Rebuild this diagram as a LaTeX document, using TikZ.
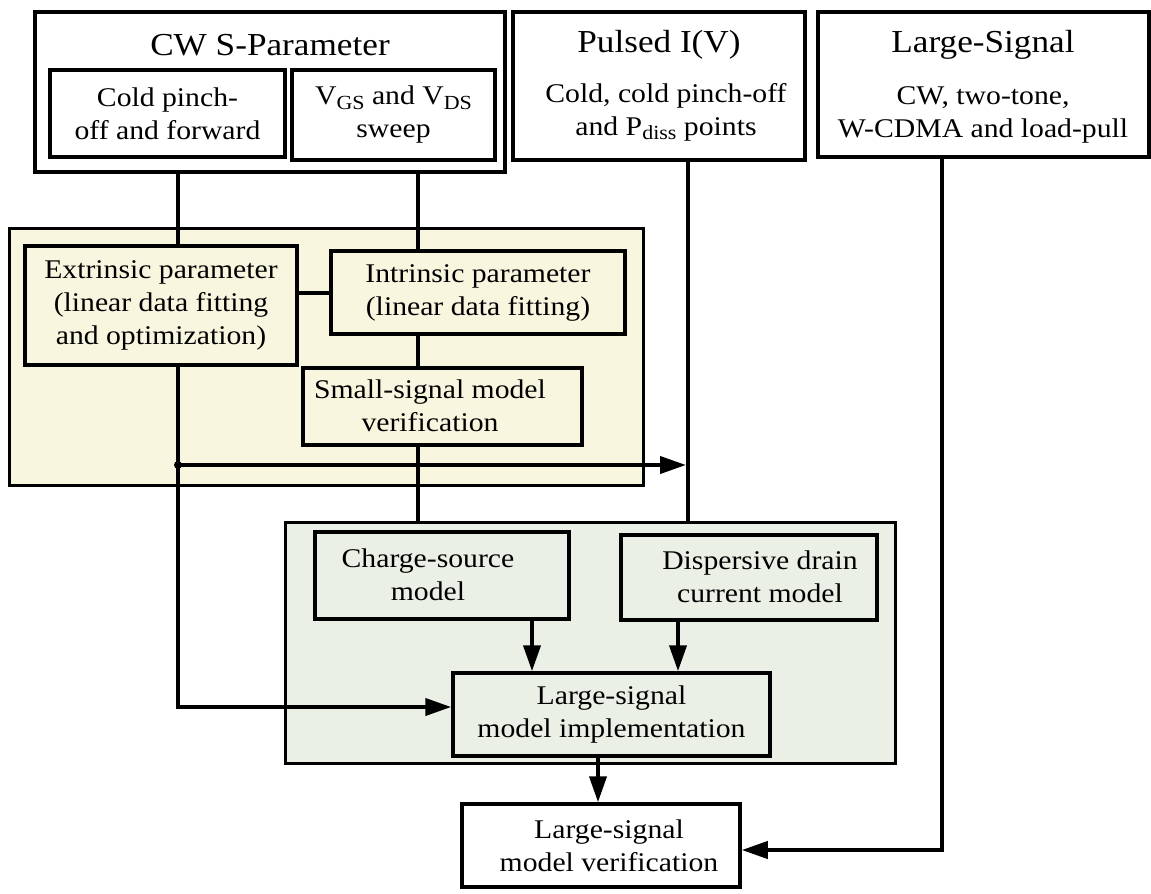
\documentclass[tikz,border=0pt]{standalone}
\usepackage{fontspec}
\setmainfont{Liberation Serif}[FakeStretch=1.1]
\usetikzlibrary{arrows.meta}
\definecolor{panelyellow}{HTML}{F9F6DF}
\definecolor{panelgreen}{HTML}{EAF0E5}
\newcommand{\lsub}[1]{\raisebox{-0.35ex}{\fontsize{20}{20}\selectfont #1}}
\begin{document}
\begin{tikzpicture}[x=1pt,y=-1pt,
  txt/.style={inner sep=0pt, align=center, font=\fontsize{27}{33}\selectfont},
  ttl/.style={inner sep=0pt, align=center, font=\fontsize{32}{36}\selectfont},
  box/.style={txt, draw, line width=3.5pt, rectangle, fill=white},
  ybox/.style={box, fill=panelyellow},
  gbox/.style={box, fill=panelgreen},
  panel/.style={draw, line width=3pt, rectangle, inner sep=0pt},
  conn/.style={line width=4pt},
  arr/.style={conn, -{Triangle[length=26pt,width=17pt]}}
]
\useasboundingbox (0,0) rectangle (1151,894);

% shaded groups
\node[panel, fill=panelyellow, minimum width=634pt, minimum height=257pt] (yp) at (326,356.5) {};
\node[panel, fill=panelgreen, minimum width=610pt, minimum height=241pt] (gp) at (590,642.5) {};

% measurement boxes
\node[box, minimum width=470pt, minimum height=160pt] (cw) at (270,92) {};
\node[ttl] (cwt) at (270,45) {CW S-Parameter};
\node[box, minimum width=235pt, minimum height=87pt] (cold) at (167.5,113.5) {Cold pinch-\\off and forward};
\node[box, minimum width=203pt, minimum height=90pt] (vgs) at (393.5,115) {V\lsub{GS} and V\lsub{DS}\\sweep};

\node[box, minimum width=292pt, minimum height=148pt] (pulsed) at (659,86) {};
\node[ttl] (pt) at (659,45) {Pulsed I(V)};
\node[txt] (pb) at (666,112) {Cold, cold pinch-off\\and P\lsub{diss} points};

\node[box, minimum width=331pt, minimum height=145pt] (large) at (983.5,84.5) {};
\node[ttl] (lt) at (983,45) {Large-Signal};
\node[txt] (lb) at (983,115) {CW, two-tone,\\W-CDMA and load-pull};

% small-signal extraction
\node[ybox, minimum width=272pt, minimum height=119pt] (ext) at (161,305.5) {Extrinsic parameter\\(linear data fitting\\and optimization)};
\node[ybox, minimum width=294pt, minimum height=83pt] (int) at (478,292.5) {Intrinsic parameter\\(linear data fitting)};
\node[ybox, minimum width=279pt, minimum height=77pt] (ss) at (442.5,406.5) {};
\node[txt] (sst) at (430,406) {Small-signal model\\verification};

% large-signal modelling
\node[gbox, minimum width=254pt, minimum height=87pt] (charge) at (442,575.5) {};
\node[txt] (charget) at (428,575) {Charge-source\\model};
\node[gbox, minimum width=256pt, minimum height=85pt] (disp) at (749,577.5) {};
\node[txt] (dispt) at (760,577) {Dispersive drain\\current model};
\node[gbox, minimum width=317pt, minimum height=83pt] (impl) at (611.5,714.5) {Large-signal\\model implementation};
\node[box, minimum width=278pt, minimum height=83pt] (ver) at (601,845.5) {};
\node[txt] (vert) at (609,846) {Large-signal\\model verification};

% routing coordinates
\coordinate (xa) at (178,0);
\coordinate (xb) at (418,0);
\coordinate (xp) at (688,0);
\coordinate (xl) at (942,0);
\coordinate (xcs) at (532,0);
\coordinate (xdd) at (678,0);
\coordinate (xiv) at (598,0);
\coordinate (ylink) at (0,293);
\coordinate (yfb) at (0,465);
\coordinate (yimp) at (0,707);
\coordinate (ylv) at (0,850);

% connectors
\draw[conn] (cw.south -| xa) -- (ext.north -| xa);
\draw[conn] (cw.south -| xb) -- (int.north -| xb);
\draw[conn] (ext.east |- ylink) -- (int.west |- ylink);
\draw[conn] (int.south -| xb) -- (ss.north -| xb);
\draw[conn] (ss.south -| xb) -- (gp.north -| xb);
\draw[arr] (ext.south -| xa) -- (yimp -| xa) -- (impl.west |- yimp);
\draw[arr, shorten >=2pt] (yfb -| xa) -- (yfb -| xp);
\fill (yfb -| xa) circle (4pt);
\draw[conn] (pulsed.south -| xp) -- (gp.north -| xp);
\draw[arr] (charge.south -| xcs) -- (impl.north -| xcs);
\draw[arr] (disp.south -| xdd) -- (impl.north -| xdd);
\draw[arr] (impl.south -| xiv) -- (ver.north -| xiv);
\draw[arr] (large.south -| xl) -- (ylv -| xl) -- (ver.east |- ylv);
\end{tikzpicture}
\end{document}
